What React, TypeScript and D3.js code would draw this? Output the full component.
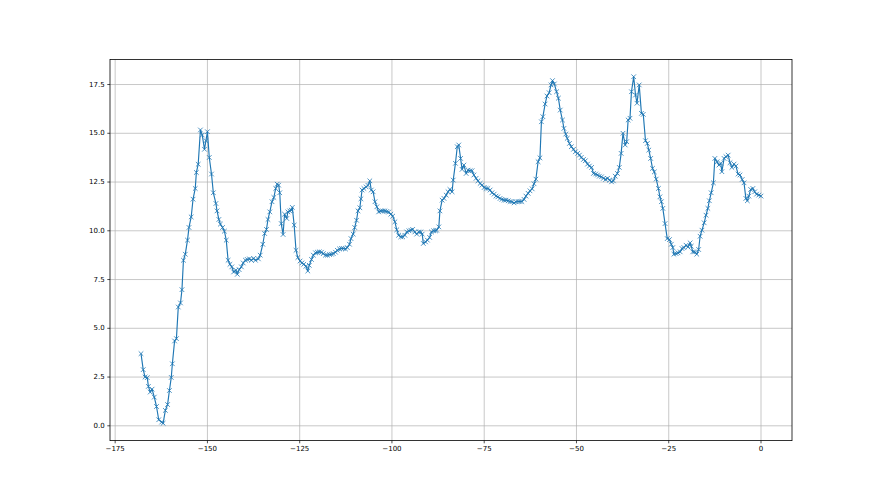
import React from "react";
import * as d3 from "d3";

const xValues: number[] = [
  -168.0, -167.4, -166.9, -166.3, -166.0, -165.5, -165.0, -164.4, -163.8, -163.2, -162.4, -162.0, -161.4, -160.8, -160.3, -159.8, -159.5, -158.9, -158.4, -157.9, -157.3, -156.9, -156.5, -156.0, -155.4, -155.0, -154.4, -153.9, -153.3, -153.0, -152.5, -151.9, -151.4, -150.8, -150.4, -150.0, -149.5, -148.9, -148.4, -147.7, -147.4, -146.9, -146.5, -145.9, -145.4, -144.9, -144.4, -143.9, -143.4, -142.9, -142.3, -141.9, -141.4, -140.8, -140.3, -139.7, -139.2, -138.6, -138.1, -137.5, -137.0, -136.2, -135.7, -135.0, -134.5, -134.0, -133.6, -133.1, -132.5, -132.0, -131.5, -131.1, -130.7, -130.4, -130.0, -129.5, -129.1, -128.5, -128.2, -127.7, -127.3, -127.0, -126.5, -126.0, -125.5, -124.9, -124.4, -123.9, -123.3, -122.8, -122.4, -121.8, -121.3, -120.7, -120.2, -119.7, -119.1, -118.6, -118.0, -117.5, -116.9, -116.4, -115.9, -115.3, -114.8, -114.2, -113.7, -113.2, -112.6, -112.1, -111.5, -111.1, -110.5, -110.1, -109.6, -109.2, -108.7, -108.4, -108.1, -107.6, -107.0, -106.5, -106.0, -105.6, -105.1, -104.6, -104.1, -103.6, -103.0, -102.5, -101.9, -101.4, -100.9, -100.3, -99.8, -99.2, -98.7, -98.2, -97.6, -97.1, -96.5, -96.0, -95.4, -94.9, -94.4, -93.8, -93.3, -92.7, -92.2, -91.8, -91.5, -90.9, -90.4, -89.8, -89.3, -88.7, -88.2, -87.9, -87.3, -87.0, -86.4, -85.9, -85.3, -84.8, -84.3, -83.7, -83.4, -82.8, -82.3, -81.9, -81.4, -81.0, -80.5, -79.9, -79.4, -78.8, -78.3, -77.8, -77.2, -76.7, -76.1, -75.6, -75.0, -74.5, -74.0, -73.4, -72.9, -72.3, -71.8, -71.3, -70.7, -70.2, -69.6, -69.1, -68.5, -68.0, -67.5, -66.9, -66.4, -65.8, -65.3, -64.8, -64.2, -63.7, -63.1, -62.6, -62.0, -61.5, -61.0, -60.4, -59.9, -59.5, -59.1, -58.5, -58.0, -57.4, -56.9, -56.5, -56.0, -55.4, -54.9, -54.4, -53.8, -53.4, -52.9, -52.5, -51.9, -51.4, -50.8, -50.3, -49.7, -49.2, -48.7, -48.1, -47.6, -47.0, -46.5, -45.9, -45.4, -44.8, -44.3, -43.8, -43.2, -42.7, -42.1, -41.6, -41.0, -40.5, -40.0, -39.5, -38.9, -38.4, -37.9, -37.4, -36.8, -36.4, -36.0, -35.5, -35.1, -34.5, -34.0, -33.6, -33.0, -32.4, -31.9, -31.3, -30.8, -30.4, -29.9, -29.4, -28.9, -28.4, -27.8, -27.4, -27.0, -26.6, -26.0, -25.4, -24.8, -24.3, -23.9, -23.6, -23.0, -22.5, -21.9, -21.4, -20.9, -20.3, -19.8, -19.2, -18.9, -18.5, -18.0, -17.4, -16.9, -16.5, -16.0, -15.4, -14.9, -14.4, -14.0, -13.5, -12.9, -12.5, -11.9, -11.4, -10.9, -10.6, -10.0, -9.5, -8.9, -8.4, -7.9, -7.3, -6.8, -6.2, -5.7, -5.1, -4.6, -4.1, -3.7, -3.3, -2.8, -2.2, -1.7, -1.2, -0.6, 0.0,
];

const yValues: number[] = [
  3.70, 2.88, 2.50, 2.47, 2.02, 1.73, 1.88, 1.47, 0.99, 0.31, 0.19, 0.13, 0.79, 1.09, 1.81, 2.48, 3.18, 4.35, 4.47, 6.09, 6.30, 6.98, 8.49, 8.80, 9.52, 10.17, 10.71, 11.62, 12.17, 12.99, 13.41, 15.17, 14.91, 14.18, 14.62, 15.08, 13.76, 12.91, 11.95, 11.40, 11.02, 10.58, 10.34, 10.17, 9.98, 9.52, 8.49, 8.28, 8.15, 7.89, 7.98, 7.77, 8.01, 8.15, 8.35, 8.49, 8.53, 8.56, 8.49, 8.58, 8.49, 8.56, 8.75, 9.31, 9.86, 10.07, 10.58, 10.97, 11.49, 11.71, 12.17, 12.39, 12.34, 11.95, 10.37, 9.81, 10.85, 10.63, 10.97, 11.02, 11.06, 11.20, 10.29, 9.00, 8.63, 8.45, 8.35, 8.28, 8.18, 7.94, 8.23, 8.53, 8.75, 8.87, 8.90, 8.92, 8.90, 8.83, 8.75, 8.75, 8.78, 8.80, 8.83, 8.90, 9.00, 9.07, 9.09, 9.09, 9.07, 9.14, 9.31, 9.60, 9.83, 10.17, 10.54, 11.02, 11.18, 11.64, 12.09, 12.17, 12.25, 12.33, 12.56, 12.09, 12.00, 11.49, 11.23, 10.97, 11.02, 11.02, 11.02, 10.99, 10.96, 10.85, 10.75, 10.46, 10.05, 9.77, 9.69, 9.69, 9.77, 9.94, 10.00, 10.03, 10.07, 9.94, 9.83, 9.94, 9.94, 9.83, 9.35, 9.43, 9.52, 9.66, 9.94, 10.00, 10.00, 10.03, 10.20, 11.02, 11.57, 11.66, 11.83, 12.00, 12.12, 12.00, 12.60, 13.46, 14.31, 14.40, 13.71, 13.15, 13.37, 12.94, 13.11, 13.08, 13.08, 12.86, 12.69, 12.56, 12.43, 12.34, 12.22, 12.17, 12.17, 12.09, 11.95, 11.88, 11.78, 11.74, 11.66, 11.61, 11.57, 11.57, 11.54, 11.50, 11.49, 11.43, 11.49, 11.50, 11.50, 11.50, 11.61, 11.78, 11.92, 12.05, 12.15, 12.41, 12.65, 13.54, 13.74, 15.59, 15.85, 16.50, 16.91, 17.08, 17.48, 17.70, 17.53, 17.13, 16.80, 16.19, 15.68, 15.25, 14.96, 14.74, 14.48, 14.31, 14.18, 14.05, 13.97, 13.88, 13.76, 13.66, 13.59, 13.42, 13.32, 13.25, 12.94, 12.91, 12.86, 12.80, 12.77, 12.69, 12.63, 12.69, 12.60, 12.51, 12.56, 12.80, 12.94, 13.25, 13.97, 15.00, 14.40, 14.57, 15.68, 15.77, 17.13, 17.90, 16.96, 16.54, 17.48, 16.02, 15.97, 14.62, 14.48, 14.14, 13.71, 13.20, 13.02, 12.65, 12.17, 11.74, 11.49, 11.15, 10.37, 9.60, 9.55, 9.31, 9.14, 8.80, 8.83, 8.87, 8.92, 9.09, 9.14, 9.26, 9.17, 9.38, 9.21, 8.92, 8.92, 8.80, 9.04, 9.72, 10.03, 10.41, 10.80, 11.15, 11.54, 11.95, 12.46, 13.71, 13.54, 13.37, 13.46, 13.03, 13.71, 13.80, 13.88, 13.49, 13.25, 13.42, 13.32, 12.91, 12.86, 12.63, 12.46, 11.66, 11.54, 11.78, 12.12, 12.17, 12.00, 11.88, 11.83, 11.78,
];

const xTicks: number[] = [-175, -150, -125, -100, -75, -50, -25, 0];
const yTicks: number[] = [0, 2.5, 5, 7.5, 10, 12.5, 15, 17.5];

const W = 880;
const H = 495;
const M = { left: 110, right: 792, top: 59.4, bottom: 440.6 };

export default function App() {
  const data = xValues.map((x, i) => ({ x, y: yValues[i] }));
  const [xmin, xmax] = d3.extent(xValues) as [number, number];
  const [ymin, ymax] = d3.extent(yValues) as [number, number];
  const xm = (xmax - xmin) * 0.05;
  const ym = (ymax - ymin) * 0.05;
  const x = d3.scaleLinear().domain([xmin - xm, xmax + xm]).range([M.left, M.right]);
  const y = d3.scaleLinear().domain([ymin - ym, ymax + ym]).range([M.bottom, M.top]);
  const line = d3
    .line<{ x: number; y: number }>()
    .x((d) => x(d.x))
    .y((d) => y(d.y));
  const font = "DejaVu Sans, sans-serif";
  const fs = 7;
  const ms = 2.3;
  return (
    <svg
      width={W}
      height={H}
      style={{ position: "absolute", left: 0, top: 0, background: "#fff" }}
    >
      <rect x={0} y={0} width={W} height={H} fill="#fff" />
      <g>
        {xTicks.map((t) => (
          <line key={"gx" + t} x1={x(t)} x2={x(t)} y1={M.top} y2={M.bottom} stroke="#b0b0b0" strokeWidth={0.7} />
        ))}
        {yTicks.map((t) => (
          <line key={"gy" + t} x1={M.left} x2={M.right} y1={y(t)} y2={y(t)} stroke="#b0b0b0" strokeWidth={0.7} />
        ))}
      </g>
      <path d={line(data) || ""} fill="none" stroke="#1f77b4" strokeWidth={1.15} strokeLinejoin="round" />
      <g stroke="#1f77b4" strokeWidth={0.8}>
        {data.map((d, i) => {
          const cx = x(d.x);
          const cy = y(d.y);
          return (
            <path
              key={i}
              d={`M${cx - ms},${cy - ms}L${cx + ms},${cy + ms}M${cx - ms},${cy + ms}L${cx + ms},${cy - ms}`}
            />
          );
        })}
      </g>
      <rect
        x={M.left}
        y={M.top}
        width={M.right - M.left}
        height={M.bottom - M.top}
        fill="none"
        stroke="#000"
        strokeWidth={0.8}
      />
      <g fontFamily={font} fontSize={fs} fill="#000">
        {xTicks.map((t) => (
          <g key={"tx" + t}>
            <line x1={x(t)} x2={x(t)} y1={M.bottom} y2={M.bottom + 2.7} stroke="#000" strokeWidth={0.7} />
            <text x={x(t)} y={M.bottom + 5.6} textAnchor="middle" dominantBaseline="hanging">
              {t < 0 ? "\u2212" + Math.abs(t) : String(t)}
            </text>
          </g>
        ))}
        {yTicks.map((t) => (
          <g key={"ty" + t}>
            <line x1={M.left - 2.7} x2={M.left} y1={y(t)} y2={y(t)} stroke="#000" strokeWidth={0.7} />
            <text x={M.left - 5.4} y={y(t)} textAnchor="end" dominantBaseline="central">
              {t.toFixed(1)}
            </text>
          </g>
        ))}
      </g>
    </svg>
  );
}
